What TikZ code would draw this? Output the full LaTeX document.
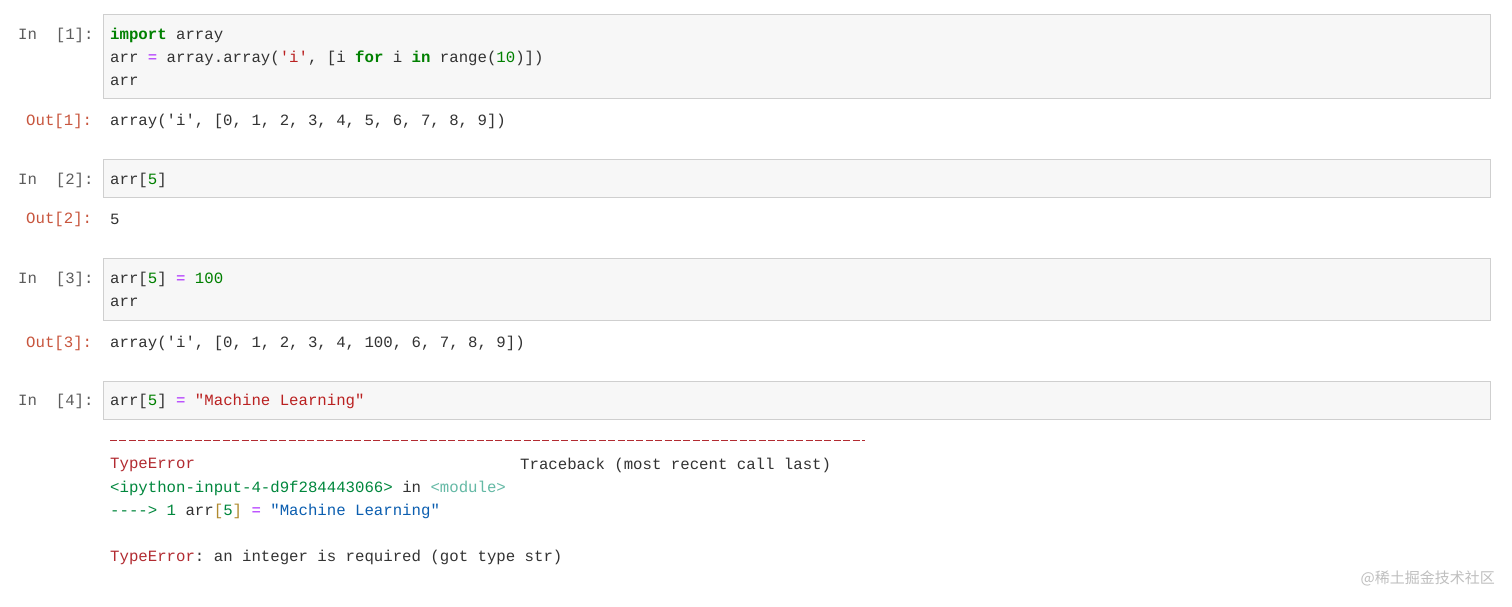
\documentclass[tikz,border=0pt]{standalone}
\usepackage{fontspec}
\setmonofont{Liberation Mono}
\newfontfamily\cjk{Noto Sans CJK SC}
\definecolor{kw}{HTML}{008000}
\definecolor{op}{HTML}{AA22FF}
\definecolor{st}{HTML}{BA2121}
\definecolor{outc}{HTML}{C8553D}
\definecolor{cellbg}{HTML}{F7F7F7}
\definecolor{cellbd}{HTML}{CFCFCF}
\definecolor{err}{HTML}{B22B31}
\definecolor{ipy}{HTML}{00873D}
\definecolor{mod}{HTML}{64B9A5}
\definecolor{blu}{HTML}{0B5EB0}
\definecolor{brk}{HTML}{B08A2E}
\definecolor{txt}{HTML}{333333}
\begin{document}
\begin{tikzpicture}[x=1pt,y=-1pt,
  code/.style={anchor=west,inner sep=0pt,font=\ttfamily\fontsize{15.7}{15.7}\selectfont,text=txt},
  prompt/.style={code,text=txt!80},
  outp/.style={code,text=outc},
  cell/.style={draw=cellbd,fill=cellbg,line width=0.8pt}]
\useasboundingbox (0,0) rectangle (1512,606);
\fill[white] (0,0) rectangle (1512,606);
% cell 1
\draw[cell] (103,14) rectangle (1490,98);
\node[prompt] (p1) at (18,35) {In\ \ [1]:};
\node[code] (c1a) at (110,35) {\textcolor{kw}{\bfseries import} array};
\node[code] (c1b) at (110,58) {arr \textcolor{op}{=} array.array(\textcolor{st}{'i'}, [i \textcolor{kw}{\bfseries for} i \textcolor{kw}{\bfseries in} range(\textcolor{kw}{10})])};
\node[code] (c1c) at (110,81) {arr};
\node[outp] (o1) at (26,121) {Out[1]:};
\node[code] (r1) at (110,121) {array('i', [0, 1, 2, 3, 4, 5, 6, 7, 8, 9])};
% cell 2
\draw[cell] (103,159) rectangle (1490,197);
\node[prompt] (p2) at (18,180) {In\ \ [2]:};
\node[code] (c2) at (110,180) {arr[\textcolor{kw}{5}]};
\node[outp] (o2) at (26,219) {Out[2]:};
\node[code] (r2) at (110,219) {5};
% cell 3
\draw[cell] (103,258) rectangle (1490,320);
\node[prompt] (p3) at (18,279) {In\ \ [3]:};
\node[code] (c3a) at (110,279) {arr[\textcolor{kw}{5}] \textcolor{op}{=} \textcolor{kw}{100}};
\node[code] (c3b) at (110,302) {arr};
\node[outp] (o3) at (26,343) {Out[3]:};
\node[code] (r3) at (110,343) {array('i', [0, 1, 2, 3, 4, 100, 6, 7, 8, 9])};
% cell 4
\draw[cell] (103,381) rectangle (1490,419);
\node[prompt] (p4) at (18,401) {In\ \ [4]:};
\node[code] (c4) at (110,401) {arr[\textcolor{kw}{5}] \textcolor{op}{=} \textcolor{st}{"Machine Learning"}};
\draw[err,line width=0.8pt,dash pattern=on 7pt off 2.4pt] (110,440) -- (865,440);
\node[code,text=err] (e1) at (110,465) {TypeError};
\node[code] (tb) at (520,465) {Traceback (most recent call last)};
\node[code] (e2) at (110,488) {\textcolor{ipy}{<ipython-input-4-d9f284443066>} in \textcolor{mod}{<module>}};
\node[code] (e3) at (110,511) {\textcolor{ipy}{---->} \textcolor{ipy}{1} arr\textcolor{brk}{[}\textcolor{ipy}{5}\textcolor{brk}{]} \textcolor{op}{=} \textcolor{blu}{"Machine Learning"}};
\node[code] (e4) at (110,557) {\textcolor{err}{TypeError}: an integer is required (got type str)};
\node[anchor=east,inner sep=0pt,font=\cjk\fontsize{15}{15}\selectfont,text=black!25] (wm) at (1495,578) {@稀土掘金技术社区};
\end{tikzpicture}
\end{document}
